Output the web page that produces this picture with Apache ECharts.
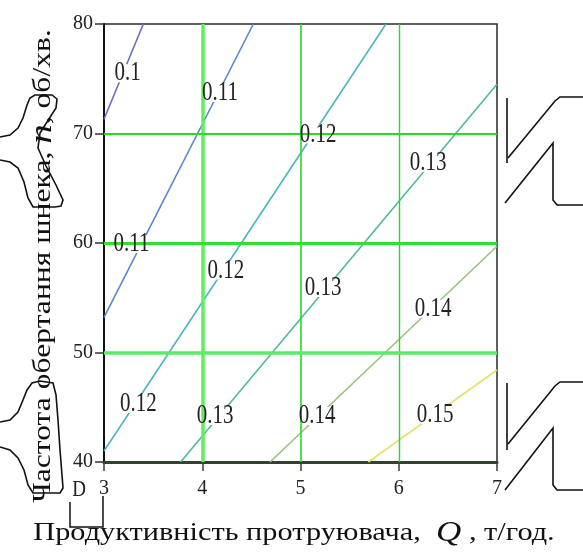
<!DOCTYPE html>
<html>
<head>
<meta charset="utf-8">
<script src="https://cdn.jsdelivr.net/npm/echarts@6/dist/echarts.min.js"></script>
<style>
html,body{margin:0;padding:0;background:#fff;}
#chart{width:583px;height:552px;}
</style>
</head>
<body>
<div id="chart"></div>
<script>
// ---- data ----
const qTicks = [3, 4, 5, 6, 7];
const nTicks = [40, 50, 60, 70, 80];
const levels = [0.1, 0.11, 0.12, 0.13, 0.14, 0.15];
const lineStartQ = [3.00, 3.00, 3.00, 3.78, 4.69, 5.69];
const lineStartN = [71.3, 53.2, 41.0, 40.0, 40.0, 40.0];
const lineEndQ   = [3.40, 4.52, 5.87, 7.00, 7.00, 7.00];
const lineEndN   = [80.0, 80.0, 80.0, 74.5, 59.7, 48.4];
const labelQ    = [3.24, 4.18, 5.18, 6.30, 3.28, 4.24, 5.23, 6.35, 3.35, 4.13, 5.17, 6.37];
const labelN    = [75.5, 73.7, 69.9, 67.3, 59.9, 57.5, 55.9, 54.0, 45.3, 44.2, 44.2, 44.3];
const labelText = ['0.1','0.11','0.12','0.13','0.11','0.12','0.13','0.14','0.12','0.13','0.14','0.15'];
const gridQ = [4, 5, 6];
const gridN = [50, 60, 70];

// ---- styles ----
const lineColors = ['#6b6bc6', '#5a86cc', '#49b6c2', '#52b89e', '#98c27c', '#e4e26a'];
const gridQStyle = [{w:3.5,c:'#5fee5f'},{w:1.6,c:'#22dd22'},{w:1.4,c:'#22dd22'}];
const gridNStyle = [{w:3.5,c:'#55ee66'},{w:3,c:'#2fe02f'},{w:2,c:'#22dd22'}];
const serif = '"Liberation Serif", "Times New Roman", serif';
const labelFont = '21px ' + serif;

function textWidth(t, font){
  const c = document.createElement('canvas').getContext('2d');
  c.font = font; return c.measureText(t).width;
}

const chart = echarts.init(document.getElementById('chart'), null, {renderer:'canvas'});

const series = [];
levels.forEach((lv, i) => {
  series.push({
    type:'line', name:String(lv), showSymbol:false, silent:true, z:2,
    data:[[lineStartQ[i], lineStartN[i]], [lineEndQ[i], lineEndN[i]]],
    lineStyle:{color:lineColors[i], width:1.6}
  });
});
// label gaps in contour lines (below grid lines)
series.push({
  type:'custom', z:2.5, silent:true,
  data: labelQ.map((q,i)=>[q, labelN[i]]),
  renderItem:(params, api)=>{
    const p = api.coord([api.value(0), api.value(1)]);
    const w = textWidth(labelText[params.dataIndex], labelFont) + 2;
    return {type:'rect', shape:{x:p[0]-w/2, y:p[1]-9, width:w, height:18}, style:{fill:'#fff'}};
  }
});
// grid lines
series.push({
  type:'line', data:[], z:3, silent:true,
  markLine:{
    silent:true, symbol:['none','none'], label:{show:false}, z:3,
    data: gridQ.map((q,i)=>({xAxis:q, lineStyle:{type:'solid', width:gridQStyle[i].w, color:gridQStyle[i].c}}))
      .concat(gridN.map((n,i)=>({yAxis:n, lineStyle:{type:'solid', width:gridNStyle[i].w, color:gridNStyle[i].c}})))
  }
});
// contour labels
series.push({
  type:'custom', z:5, silent:true,
  data: labelQ.map((q,i)=>[q, labelN[i]]),
  renderItem:(params, api)=>{
    const p = api.coord([api.value(0), api.value(1)]);
    return {type:'text', x:p[0], y:p[1], scaleY:1.3,
      style:{text:labelText[params.dataIndex], font:labelFont, fill:'#222', align:'center', verticalAlign:'middle'}};
  }
});

// titles (fit to measured extents)
const titleFont = '26px ' + serif;
const xTitlePlain = 'Продуктивність протруювача,  Q , т/год.';
const xScale = 518 / textWidth(xTitlePlain, titleFont);
const yTitlePlain = 'Частота обертання шнека, n, об/хв.';
const yScale = 470 / textWidth(yTitlePlain, titleFont);

const black = '#111';
function pl(points, w){ return {type:'polyline', silent:true, shape:{points}, style:{stroke:black, lineWidth:w||1.6, fill:null}, z:10}; }

const graphic = [
  {type:'text', x:294, y:533, scaleX:xScale, silent:true, z:10,
   style:{text:'Продуктивність протруювача,  {q|Q} , т/год.', font:titleFont, fill:'#111', align:'center', verticalAlign:'middle',
     rich:{q:{fontFamily:serif, fontStyle:'italic', fontSize:30, fill:'#111'}}}},
  {type:'text', x:43, y:266, rotation:Math.PI/2, scaleX:yScale, silent:true, z:10,
   style:{text:'Частота обертання шнека, {n|n}, об/хв.', font:titleFont, fill:'#111', align:'center', verticalAlign:'middle',
     rich:{n:{fontFamily:serif, fontStyle:'italic', fontSize:32, fill:'#111'}}}},
  {type:'text', x:79, y:490, silent:true, z:10, scaleY:1.2,
   style:{text:'D', font:'19px '+serif, fill:'#222', align:'center', verticalAlign:'middle'}},
  pl([[70,502],[70,527],[103,527],[103,496]], 1.5),
  // left decorations
  pl([[0,137],[10,135],[18,128],[23,118],[27,105],[30,98],[35,95],[52,95],[57,99],[56,108],[47,122],[40,133],[38,148],[46,166],[56,185],[63,200],[61,206],[55,207],[33,207],[28,198],[24,182],[18,168],[10,162],[0,160]]),
  pl([[0,422],[10,420],[18,412],[23,400],[27,390],[32,383],[40,381],[53,383],[56,395],[58,420],[60,450],[62,475],[63,488],[60,493],[33,493],[28,485],[24,470],[18,458],[10,450],[0,447]]),
  // right zigzags
  pl([[507,98],[507,163]]),
  pl([[508,158],[555,101],[560,97],[583,97]]),
  pl([[505,203],[553,143],[553,200],[557,205],[583,205]]),
  pl([[507,383],[507,450]]),
  pl([[508,444],[555,386],[560,382],[583,382]]),
  pl([[505,490],[553,428],[553,485],[557,490],[583,490]])
];

chart.setOption({
  animation:false,
  backgroundColor:'#fff',
  grid:{left:104, right:86, top:24, bottom:90, show:true, borderColor:'#2a2a2a', borderWidth:1.5, backgroundColor:'transparent'},
  xAxis:{type:'value', min:qTicks[0], max:qTicks[qTicks.length-1], interval:1,
    axisLine:{show:true, onZero:false, lineStyle:{color:'#34432f', width:3}},
    axisTick:{show:true, inside:false, length:9, lineStyle:{color:'#34432f', width:1.5}},
    axisLabel:{margin:17, fontFamily:serif, fontSize:20, color:'#222', formatter:v=>qTicks.includes(v)?String(v):''},
    splitLine:{show:false}},
  yAxis:{type:'value', min:nTicks[0], max:nTicks[nTicks.length-1], interval:10,
    axisLine:{show:true, onZero:false, lineStyle:{color:'#111', width:2}},
    axisTick:{show:true, inside:false, length:9, lineStyle:{color:'#333', width:1.5}},
    axisLabel:{margin:11, fontFamily:serif, fontSize:20, color:'#222', formatter:v=>nTicks.includes(v)?String(v):''},
    splitLine:{show:false}},
  series,
  graphic
});
</script>
</body>
</html>
